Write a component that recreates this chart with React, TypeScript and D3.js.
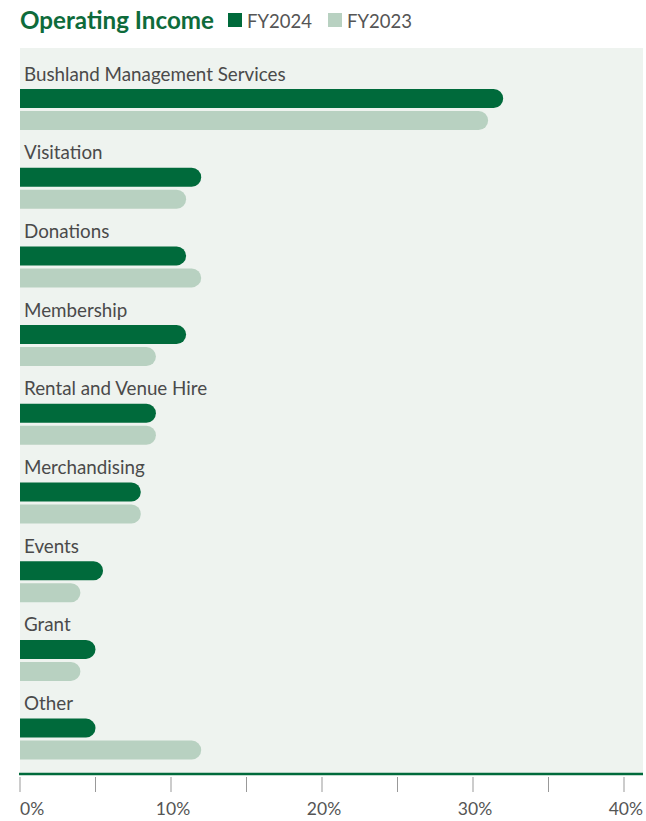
import React from "react";
import * as d3 from "d3";

const categories = [
  "Bushland Management Services",
  "Visitation",
  "Donations",
  "Membership",
  "Rental and Venue Hire",
  "Merchandising",
  "Events",
  "Grant",
  "Other",
];
const fy2024 = [32, 12, 11, 11, 9, 8, 5.5, 5, 5];
const fy2023 = [31, 11, 12, 9, 9, 8, 4, 4, 12];
const majorTicks = [0, 10, 20, 30, 40];
const minorTicks = [0, 5, 10, 15, 20, 25, 30, 35, 40];

const W = 646;
const H = 821;
const DARK = "#006A3B";
const LIGHT = "#B8D1C1";
const BG = "#EEF3EF";
const FONT = "Lato, 'Noto Sans', sans-serif";

function barPath(x0: number, x1: number, y: number, h: number) {
  const r = h / 2;
  const xe = Math.max(x0, x1 - r);
  return `M${x0},${y}H${xe}A${r},${r} 0 0 1 ${xe},${y + h}H${x0}Z`;
}

export default function App() {
  const x = d3.scaleLinear().domain([0, 40]).range([20, 624]);
  const y = d3
    .scaleBand<string>()
    .domain(categories)
    .range([60, 60 + 9 * 78.7])
    .paddingInner(0);
  const barH = 19;

  return (
    <svg
      width={W}
      height={H}
      style={{ position: "absolute", left: 0, top: 0, display: "block" }}
      fontFamily={FONT}
    >
      <rect x={0} y={0} width={W} height={H} fill="#fff" />
      <text x={20} y={29} fontSize={24.2} fontWeight={700} fill="#0E6B3B">
        Operating Income
      </text>
      <rect x={228} y={13} width={14} height={14} fill={DARK} />
      <text x={247} y={28} fontSize={18.5} fill="#555">
        FY2024
      </text>
      <rect x={328} y={13} width={14} height={14} fill={LIGHT} />
      <text x={347} y={28} fontSize={18.5} fill="#555">
        FY2023
      </text>

      <rect x={20} y={48} width={623} height={726} fill={BG} />

      {categories.map((c, i) => {
        const top = y(c) as number;
        return (
          <g key={c}>
            <text x={24} y={top + 20.5} fontSize={18.8} fill="#4a4a4a">
              {c}
            </text>
            <path d={barPath(x(0), x(fy2024[i]), top + 29, barH)} fill={DARK} />
            <path d={barPath(x(0), x(fy2023[i]), top + 51, barH)} fill={LIGHT} />
          </g>
        );
      })}

      <line x1={19} x2={643} y1={774} y2={774} stroke={DARK} strokeWidth={2.5} />
      {minorTicks.map((t) => (
        <line
          key={t}
          x1={x(t)}
          x2={x(t)}
          y1={777}
          y2={792}
          stroke="#999"
          strokeWidth={1}
        />
      ))}
      {majorTicks.map((t, i) => (
        <text
          key={t}
          x={i === 0 ? x(t) : i === majorTicks.length - 1 ? x(t) + 19 : x(t) + 2}
          y={815}
          fontSize={17.5}
          fill="#555"
          textAnchor={i === 0 ? "start" : i === majorTicks.length - 1 ? "end" : "middle"}
        >
          {t}%
        </text>
      ))}
    </svg>
  );
}
